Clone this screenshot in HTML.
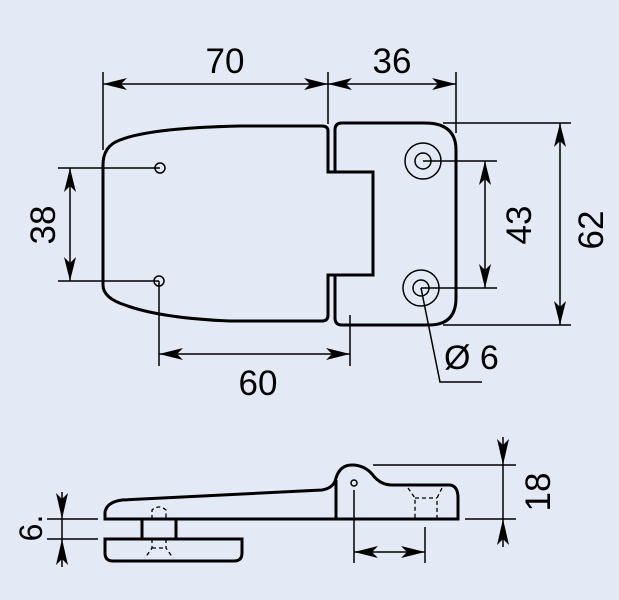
<!DOCTYPE html>
<html><head><style>
html,body{margin:0;padding:0;background:#e3eaf6;}
svg{display:block}
text{font-family:"Liberation Sans",sans-serif;fill:#000}
</style></head><body>
<svg width="619" height="600" viewBox="0 0 619 600" xmlns="http://www.w3.org/2000/svg">
<rect width="619" height="600" fill="#e3eaf6"/>
<g fill="none" stroke="#000" stroke-width="1.5">
<line x1="103" y1="72" x2="103" y2="150"/>
<line x1="328" y1="72" x2="328" y2="124"/>
<line x1="456" y1="72" x2="456" y2="133"/>
<line x1="58" y1="168" x2="160" y2="168"/>
<line x1="58" y1="281" x2="159" y2="281"/>
<line x1="159" y1="281" x2="159" y2="366"/>
<line x1="350" y1="315" x2="350" y2="366"/>
<line x1="423" y1="161" x2="497" y2="161"/>
<line x1="421" y1="288" x2="497" y2="288"/>
<line x1="443" y1="123" x2="571" y2="123"/>
<line x1="443" y1="325" x2="571" y2="325"/>
<polyline points="421,288 440,382 482,382"/>
<line x1="103" y1="84" x2="456" y2="84"/>
<line x1="70" y1="168" x2="70" y2="281"/>
<line x1="485" y1="161" x2="485" y2="288"/>
<line x1="560" y1="123" x2="560" y2="325"/>
<line x1="159" y1="354" x2="350" y2="354"/>
<circle cx="160" cy="168" r="5"/>
<circle cx="159" cy="281" r="5"/>
<circle cx="423" cy="161" r="8"/><circle cx="423" cy="161" r="18"/>
<circle cx="421" cy="288" r="8"/><circle cx="421" cy="288" r="18"/>
</g>
<g fill="#000">
<!-- horizontal arrows -->
<polygon points="103,84 127,78 121,84 127,90"/>
<polygon points="328,84 304,78 310,84 304,90"/>
<polygon points="328,84 352,78 346,84 352,90"/>
<polygon points="456,84 432,78 438,84 432,90"/>
<polygon points="159,354 183,348 177,354 183,360"/>
<polygon points="350,354 326,348 332,354 326,360"/>
<polygon points="354,552 378,546 372,552 378,558"/>
<polygon points="425,552 401,546 407,552 401,558"/>
<!-- vertical arrows -->
<polygon points="70,168 64,192 70,186 76,192"/>
<polygon points="70,281 64,257 70,263 76,257"/>
<polygon points="485,161 479,185 485,179 491,185"/>
<polygon points="485,288 479,264 485,270 491,264"/>
<polygon points="560,123 554,147 560,141 566,147"/>
<polygon points="560,325 554,301 560,307 566,301"/>
<polygon points="62,519 56,493 62,499 68,493"/>
<polygon points="62,539 56,565 62,559 68,565"/>
<polygon points="503,465 497,439 503,445 509,439"/>
<polygon points="503,519 497,545 503,539 509,545"/>
</g>
<g fill="none" stroke="#000" stroke-width="3">
<path d="M328,172 L328,131 Q328,126 322,126 L240,126 Q150,128 120,140 Q103,146 103,165 L103,285 Q103,298 125,305 Q160,318 230,321 L322,321 Q328,321 328,315 L328,275 L373,275 L373,172 Z"/>
<path d="M335,172 L335,130 Q335,123 342,123 L425,123 Q456,123 456,150 L456,298 Q456,325 429,325 L342,325 Q335,325 335,318 L335,275"/>
</g>
<text x="225" y="73" font-size="35" text-anchor="middle">70</text>
<text x="392" y="73" font-size="35" text-anchor="middle">36</text>
<text x="258" y="395" font-size="35" text-anchor="middle">60</text>
<text x="444" y="369" font-size="34">Ø 6</text>
<text transform="translate(55,225) rotate(-90)" font-size="35" text-anchor="middle">38</text>
<text transform="translate(531,225) rotate(-90)" font-size="35" text-anchor="middle">43</text>
<text transform="translate(603,230) rotate(-90)" font-size="35" text-anchor="middle">62</text>
<g fill="none" stroke="#000" stroke-width="1.5">
<line x1="47" y1="519" x2="98" y2="519"/>
<line x1="47" y1="539" x2="98" y2="539"/>
<line x1="62" y1="492" x2="62" y2="567"/>
<line x1="373" y1="465" x2="516" y2="465"/>
<line x1="465" y1="519" x2="516" y2="519"/>
<line x1="503" y1="437" x2="503" y2="547"/>
<line x1="354" y1="490" x2="354" y2="563"/>
<line x1="425" y1="527" x2="425" y2="563"/>
<line x1="354" y1="552" x2="425" y2="552"/>
<circle cx="354" cy="483" r="3"/>
</g>
<g fill="none" stroke="#000" stroke-width="1.3" stroke-dasharray="4,3">
<path d="M408,488 L415,498 L415,519 M442,488 L437,498 L437,519 M415,498 L437,498"/>
<path d="M152,519 L152,510 Q159,504 166,510 L166,519 M152,539 L152,548 L145,558 M166,539 L166,548 L173,558 M152,548 L166,548"/>
</g>
<g fill="none" stroke="#000" stroke-width="3">
<path d="M105,519 L105,512 Q107,502 122,500 L322,490 Q334,488 336,478 Q340,465 352,465 Q364,465 372,474 Q380,485 392,485 L450,485 Q458,486 458,498 L458,519 Z"/>
<line x1="336" y1="480" x2="336" y2="519"/>
<path d="M105,539 L242,539 L242,553 Q242,561 234,561 L113,561 Q105,561 105,553 Z"/>
<rect x="142" y="519" width="34" height="20"/>
</g>
<text transform="translate(42,528) rotate(-90)" font-size="32" text-anchor="middle">6.</text>
<text transform="translate(550,492) rotate(-90)" font-size="35" text-anchor="middle">18</text>
</svg>
</body></html>
